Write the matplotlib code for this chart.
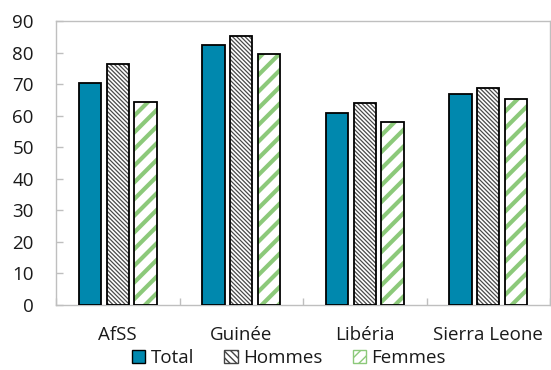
import matplotlib
matplotlib.use("Agg")
import matplotlib.pyplot as plt
from matplotlib.patches import Patch
import numpy as np

plt.rcParams['font.family'] = ['Open Sans', 'DejaVu Sans']

categories = ["AfSS", "Guinée", "Libéria", "Sierra Leone"]
total = [70.4, 82.5, 60.9, 67.0]
hommes = [76.5, 85.2, 64.0, 68.9]
femmes = [64.3, 79.5, 57.9, 65.2]
series_names = ["Total", "Hommes", "Femmes"]
yticks = [0, 10, 20, 30, 40, 50, 60, 70, 80, 90]

blue = "#0088AE"
green = "#8CC97A"
grid_grey = "#BFBFBF"
text_col = "#1a1a1a"

W, H = 551, 370
fig = plt.figure(figsize=(W / 100, H / 100), dpi=100)
ax = fig.add_axes([56 / W, 1 - 305 / H, (550 - 56) / W, (305 - 21) / H])

x = np.arange(len(categories))
step = 0.225
width = 0.182

ax.bar(x - step, total, width, color=blue, edgecolor="black", linewidth=1.3, zorder=3)

with plt.rc_context({'hatch.linewidth': 0.9}):
    ax.bar(x, hommes, width, color="white", edgecolor="#4a4a4a", hatch="\\" * 8,
           linewidth=0, zorder=3)
ax.bar(x, hommes, width, fill=False, edgecolor="black", linewidth=1.3, zorder=4)

with plt.rc_context({'hatch.linewidth': 3.0}):
    ax.bar(x + step, femmes, width, color="white", edgecolor=green, hatch="//",
           linewidth=0, zorder=3)
ax.bar(x + step, femmes, width, fill=False, edgecolor="black", linewidth=1.3, zorder=4)

ax.set_xlim(-0.5, len(categories) - 0.5)
ax.set_ylim(0, 90)
ax.set_yticks(yticks)
ax.set_yticklabels([str(v) for v in yticks])
ax.set_xticks(x)
ax.set_xticklabels(categories)
ax.set_xticks(np.arange(len(categories) + 1) - 0.5, minor=True)

for s in ax.spines.values():
    s.set_color(grid_grey)
    s.set_linewidth(1.0)

ax.tick_params(axis='y', direction='in', length=5, width=1, color=grid_grey,
               labelsize=13.5, pad=16, labelcolor=text_col)
ax.tick_params(axis='x', which='major', length=0, labelsize=13.5, pad=15,
               labelcolor=text_col)
ax.tick_params(axis='x', which='minor', direction='in', length=5, width=1,
               color=grid_grey)

with plt.rc_context({'hatch.linewidth': 1.0}):
    h_total = Patch(facecolor=blue, edgecolor="black", linewidth=1.0)
    h_hommes = Patch(facecolor="white", edgecolor="#444444", hatch="\\" * 5, linewidth=1.0)
with plt.rc_context({'hatch.linewidth': 2.5}):
    h_femmes = Patch(facecolor="white", edgecolor=green, hatch="///", linewidth=1.0)

leg = fig.legend([h_total, h_hommes, h_femmes], series_names, loc="center",
                 bbox_to_anchor=(289 / W, 1 - 358 / H), ncol=3, frameon=False,
                 fontsize=13.5, handlelength=0.7, handleheight=0.7,
                 handletextpad=0.3, columnspacing=1.6, borderpad=0)
for t in leg.get_texts():
    t.set_color(text_col)

fig.savefig("out.png", dpi=100)
